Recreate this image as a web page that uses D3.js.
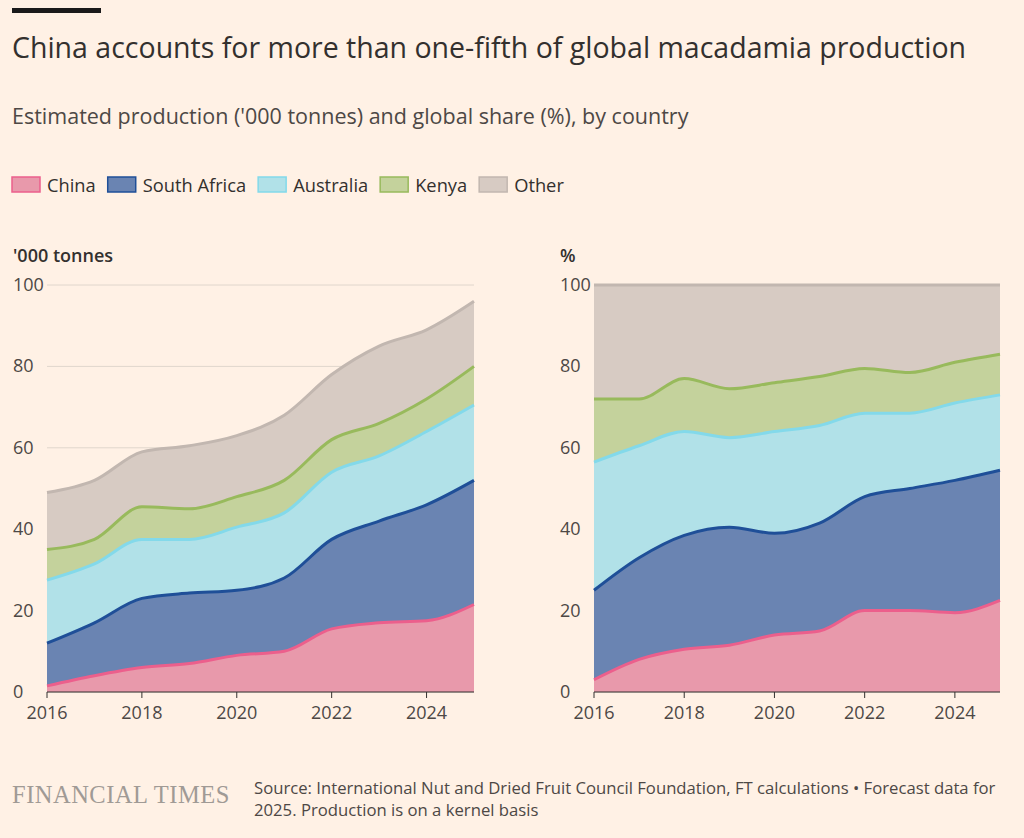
<!DOCTYPE html>
<html><head><meta charset="utf-8">
<script src="https://cdn.jsdelivr.net/npm/d3@7"></script>
<style>
body{margin:0;background:#fff1e5;font-family:"Open Sans",sans-serif;}
</style></head><body>
<svg id="c" width="1024" height="838"></svg>
<script>
var years = [2016,2017,2018,2019,2020,2021,2022,2023,2024,2025];
var seriesNames = ["China","South Africa","Australia","Kenya","Other"];
// '000 tonnes
var chinaT = [1.5,4,6,7,9,10,15.5,17,17.5,21.5];
var safricaT = [10.5,13,17,17.3,16,18,22,25,28.5,30.5];
var australiaT = [15.5,14.5,14.5,13.2,15.5,16,16.5,16,18,18.5];
var kenyaT = [7.5,6,8,7.5,7.5,8,8,8,8,9.5];
var otherT = [14,14.5,13.5,15.5,15,16,16,19,17,16];
// share %
var chinaS = [3,8,10.5,11.5,14,15,20,20,19.5,22.5];
var safricaS = [22,25,28,29,25,26.5,28,30,32.5,32];
var australiaS = [31.5,27.5,25.5,22,25,24,20.5,18.5,19,18.5];
var kenyaS = [15.5,11.5,13,12,12,12,11,10,10,10];
var otherS = [28,28,23,25.5,24,22.5,20.5,21.5,19,17];
var yTicks = [0,20,40,60,80,100];
var xTicks = [2016,2018,2020,2022,2024];

var fills = ["#e899ab","#6a84b2","#b1e1e8","#c4d29c","#d7cbc3"];
var strokes = ["#ec5f8c","#1f4f98","#83d9ea","#98ba5c","#c2b7b0"];

var svg = d3.select("#c");
svg.append("rect").attr("x",12).attr("y",8).attr("width",89).attr("height",5).attr("fill","#1a1a1a");
svg.append("text").attr("x",12).attr("y",58).attr("font-size",28.5).attr("fill","#33302e")
  .text("China accounts for more than one-fifth of global macadamia production");
svg.append("text").attr("x",12).attr("y",124).attr("font-size",21.5).attr("fill","#4d4845")
  .text("Estimated production ('000 tonnes) and global share (%), by country");

// legend
var lx = 12;
seriesNames.forEach(function(n,i){
  svg.append("rect").attr("x",lx).attr("y",177).attr("width",28).attr("height",15).attr("fill",fills[i]).attr("stroke",strokes[i]).attr("stroke-width",1.5);
  var t = svg.append("text").attr("x",lx+35).attr("y",192).attr("font-size",18.3).attr("fill","#33302e").text(n);
  lx += 35 + t.node().getComputedTextLength() + 12;
});

function drawPanel(x0, x1, unit, data){
  var g = svg.append("g");
  var x = d3.scaleLinear().domain([2016,2025]).range([x0,x1]);
  var y = d3.scaleLinear().domain([0,100]).range([692,285]);
  g.append("text").attr("x",x0-34).attr("y",262).attr("font-size",18).attr("font-weight",600).attr("fill","#33302e").text(unit);
  yTicks.forEach(function(v){
    g.append("line").attr("x1",x0).attr("x2",x1).attr("y1",y(v)).attr("y2",y(v)).attr("stroke","#e0d6cc").attr("stroke-width",1);
    g.append("text").attr("x",x0-34).attr("y",y(v)+6).attr("font-size",18).attr("fill","#4d4845").text(v);
  });
  var rows = years.map(function(yr,i){
    var r = {year:yr};
    seriesNames.forEach(function(n,k){ r[n] = data[k][i]; });
    return r;
  });
  var stack = d3.stack().keys(seriesNames)(rows);
  var area = d3.area().curve(d3.curveMonotoneX).x(function(d){return x(d.data.year);}).y0(function(d){return y(d[0]);}).y1(function(d){return y(d[1]);});
  var line = d3.line().curve(d3.curveMonotoneX).x(function(d){return x(d.data.year);}).y(function(d){return y(d[1]);});
  stack.forEach(function(s,i){
    g.append("path").attr("d",area(s)).attr("fill",fills[i]);
  });
  stack.forEach(function(s,i){
    g.append("path").attr("d",line(s)).attr("fill","none").attr("stroke",strokes[i]).attr("stroke-width",3);
  });
  g.append("line").attr("x1",x0).attr("x2",x1).attr("y1",y(0)).attr("y2",y(0)).attr("stroke","#33302e").attr("stroke-width",1);
  xTicks.forEach(function(v){
    g.append("line").attr("x1",x(v)).attr("x2",x(v)).attr("y1",692).attr("y2",698).attr("stroke","#33302e");
    g.append("text").attr("x",x(v)).attr("y",719).attr("text-anchor","middle").attr("font-size",18).attr("fill","#4d4845").text(v);
  });
}
drawPanel(47,474,"'000 tonnes",[chinaT,safricaT,australiaT,kenyaT,otherT]);
drawPanel(594,1000,"%",[chinaS,safricaS,australiaS,kenyaS,otherS]);

svg.append("text").attr("x",12).attr("y",803).attr("font-family","Liberation Serif, serif").attr("font-size",24.5).attr("fill","#a09a95").attr("letter-spacing",0.5).text("FINANCIAL TIMES");
svg.append("text").attr("x",254).attr("y",794).attr("font-size",16.7).attr("fill","#4d4845").text("Source: International Nut and Dried Fruit Council Foundation, FT calculations \u2022 Forecast data for");
svg.append("text").attr("x",254).attr("y",816).attr("font-size",16.7).attr("fill","#4d4845").text("2025. Production is on a kernel basis");
</script></body></html>
